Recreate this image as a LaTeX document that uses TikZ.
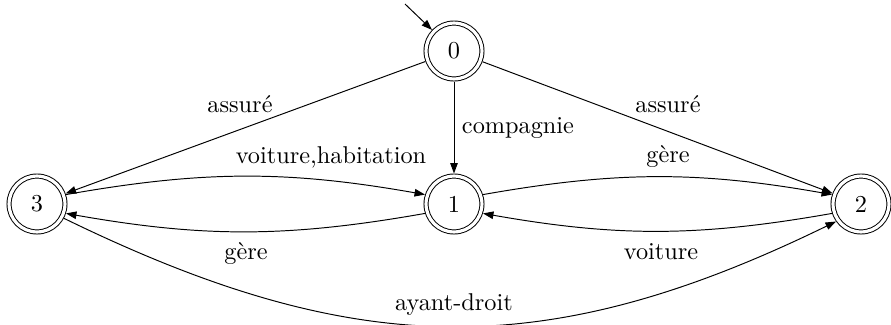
\documentclass[tikz,border=0pt]{standalone}
\usetikzlibrary{arrows.meta}
\begin{document}
\begin{tikzpicture}[x=0.4115pt,y=0.4115pt,
  state/.style={circle,draw,double,double distance=1.3pt,line width=0.4pt,
    minimum size=23pt,inner sep=0pt,outer sep=1.05pt},
  edge/.style={line width=0.4pt,-{Triangle[length=4.3pt,width=3.1pt]}},
  lbl/.style={inner sep=0pt,anchor=center}]
\useasboundingbox (0,0) rectangle (891,324);
% states
\node[state] (n0) at (454,273) {0};
\node[state] (n1) at (454,120) {1};
\node[state] (n2) at (861,120) {2};
\node[state] (n3) at (37,120) {3};
% initial arrow
\coordinate (start) at (405,320);
\draw[edge] (start) -- (n0);
% transitions
\draw[edge] (n0) -- (n3);
\draw[edge] (n0) -- (n1);
\draw[edge] (n0) -- (n2);
\draw[edge] (n3.18) to[out=10,in=170] (n1.162);
\draw[edge] (n1.198) to[out=190,in=-10] (n3.-18);
\draw[edge] (n1.18) to[out=10,in=170] (n2.162);
\draw[edge] (n2.198) to[out=190,in=-10] (n1.-18);
\draw[edge] (n3.-28) to[out=-26,in=206,looseness=1.07] (n2.215);
% labels
\node[lbl] (l03) at (240,220) {assuré};
\node[lbl] (l01) at (518,196) {compagnie};
\node[lbl] (l02) at (668,220) {assuré};
\node[lbl] (l31) at (331,167) {voiture,habitation};
\node[lbl] (l12) at (668,167) {gère};
\node[lbl] (l13) at (246,70) {gère};
\node[lbl] (l21) at (661,72) {voiture};
\node[lbl] (l32) at (454,19) {ayant-droit};
\end{tikzpicture}
\end{document}
